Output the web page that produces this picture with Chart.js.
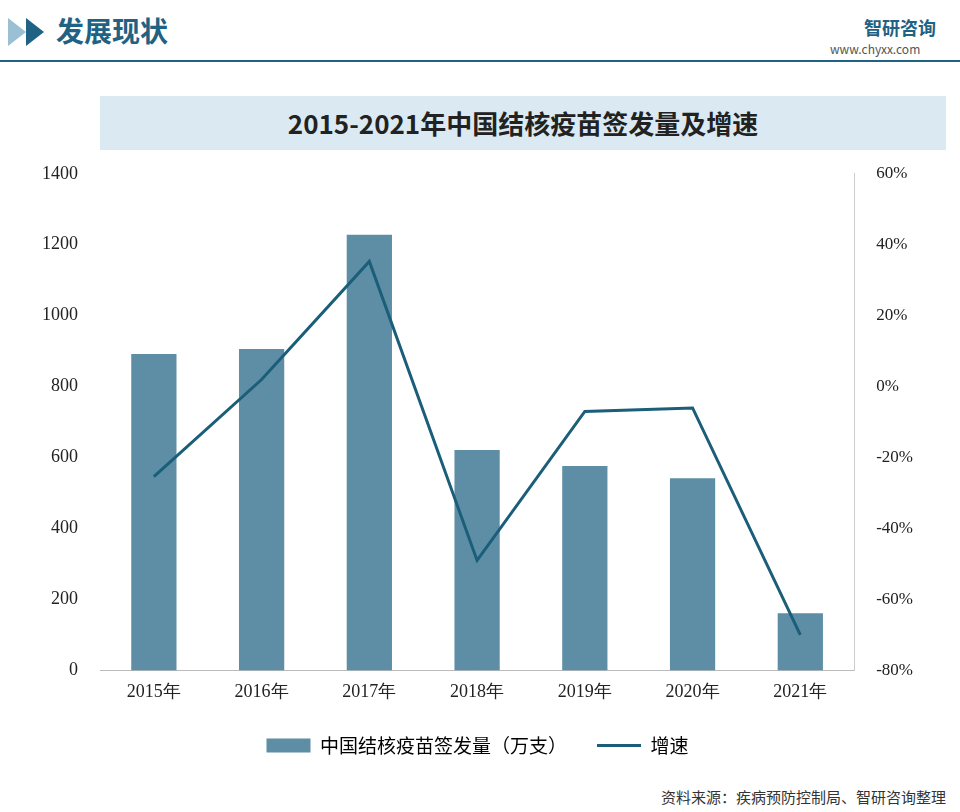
<!DOCTYPE html>
<html><head><meta charset="utf-8">
<script src="https://cdn.jsdelivr.net/npm/chart.js@4"></script>
<style>
body{margin:0;width:960px;height:812px;background:#fff;font-family:"Noto Sans CJK SC";position:relative;overflow:hidden}
#hdr{position:absolute;left:0;top:0;width:960px;height:70px}
#tbox{position:absolute;left:100px;top:96px;width:846px;height:54px;background:#dbeaf2;text-align:center;line-height:54px;font-family:"Noto Sans CJK SC";font-weight:bold;font-size:26px;color:#222}
#wrap{position:absolute;left:0;top:149px;width:960px;height:630px}
#src{position:absolute;right:14px;top:786px;font-size:15px;color:#333}
</style></head><body>
<div id="hdr">
<div style="position:absolute;left:8px;top:18px;width:0;height:0;border-top:14px solid transparent;border-bottom:14px solid transparent;border-left:18px solid #9bbfd4"></div>
<div style="position:absolute;left:26px;top:18px;width:0;height:0;border-top:14px solid transparent;border-bottom:14px solid transparent;border-left:18px solid #1f6283"></div>
<div style="position:absolute;left:56px;top:10px;font-size:28px;font-weight:bold;color:#1f6283">发展现状</div>
<div style="position:absolute;left:0;top:60px;width:960px;height:2px;background:#1f6283"></div>
<div style="position:absolute;left:864px;top:14px;font-size:18px;color:#1f6283;font-weight:bold">智研咨询</div>
<div style="position:absolute;left:830px;top:40px;font-size:12px;color:#555">www.chyxx.com</div>
</div>
<div id="tbox">2015-2021年中国结核疫苗签发量及增速</div>
<div id="wrap"><canvas id="c" width="960" height="630"></canvas></div>
<div id="src">资料来源：疾病预防控制局、智研咨询整理</div>
<script>
const categories=["2015年","2016年","2017年","2018年","2019年","2020年","2021年"];
const volume=[892,906,1228,621,576,542,161];
const growth=[-25.4,2,35.3,-49,-7,-6,-70];
new Chart(document.getElementById('c'),{
data:{labels:categories,datasets:[
{type:'line',label:'增速',data:growth,yAxisID:'y1',borderColor:'#1b5e7a',backgroundColor:'#1b5e7a',borderWidth:3,pointRadius:0,tension:0,order:0},
{type:'bar',label:'中国结核疫苗签发量（万支）',data:volume,yAxisID:'y',backgroundColor:'#5d8ea6',barPercentage:0.42,categoryPercentage:1,order:1}
]},
options:{responsive:false,animation:false,
layout:{padding:{left:28,right:33,top:14,bottom:14}},
plugins:{legend:{position:'bottom',labels:{font:{size:19,family:'Noto Sans CJK SC'},color:'#222',usePointStyle:true,pointStyleWidth:44,boxHeight:14,padding:30,
generateLabels(ch){return ch.data.datasets.map((d,i)=>({text:d.label,fillStyle:d.type==='line'?'#1b5e7a':'#5d8ea6',strokeStyle:'#1b5e7a',lineWidth:d.type==='line'?3:0,pointStyle:d.type==='line'?'line':'rect',datasetIndex:i})).reverse();}}},tooltip:{enabled:false}},
scales:{
x:{grid:{display:false},border:{color:'#bbb'},ticks:{color:'#222',font:{size:18,family:'Liberation Serif'}}},
y:{min:0,max:1400,ticks:{stepSize:200,color:'#222',font:{size:18,family:'Liberation Serif'},padding:14,callback:v=>String(v)},grid:{display:false},border:{display:false}},
y1:{position:'right',min:-80,max:60,ticks:{stepSize:20,color:'#222',font:{size:17,family:'Liberation Serif'},padding:14,callback:v=>v+'%'},grid:{display:false},border:{color:'#ccc'}}
}}});
</script>
</body></html>
